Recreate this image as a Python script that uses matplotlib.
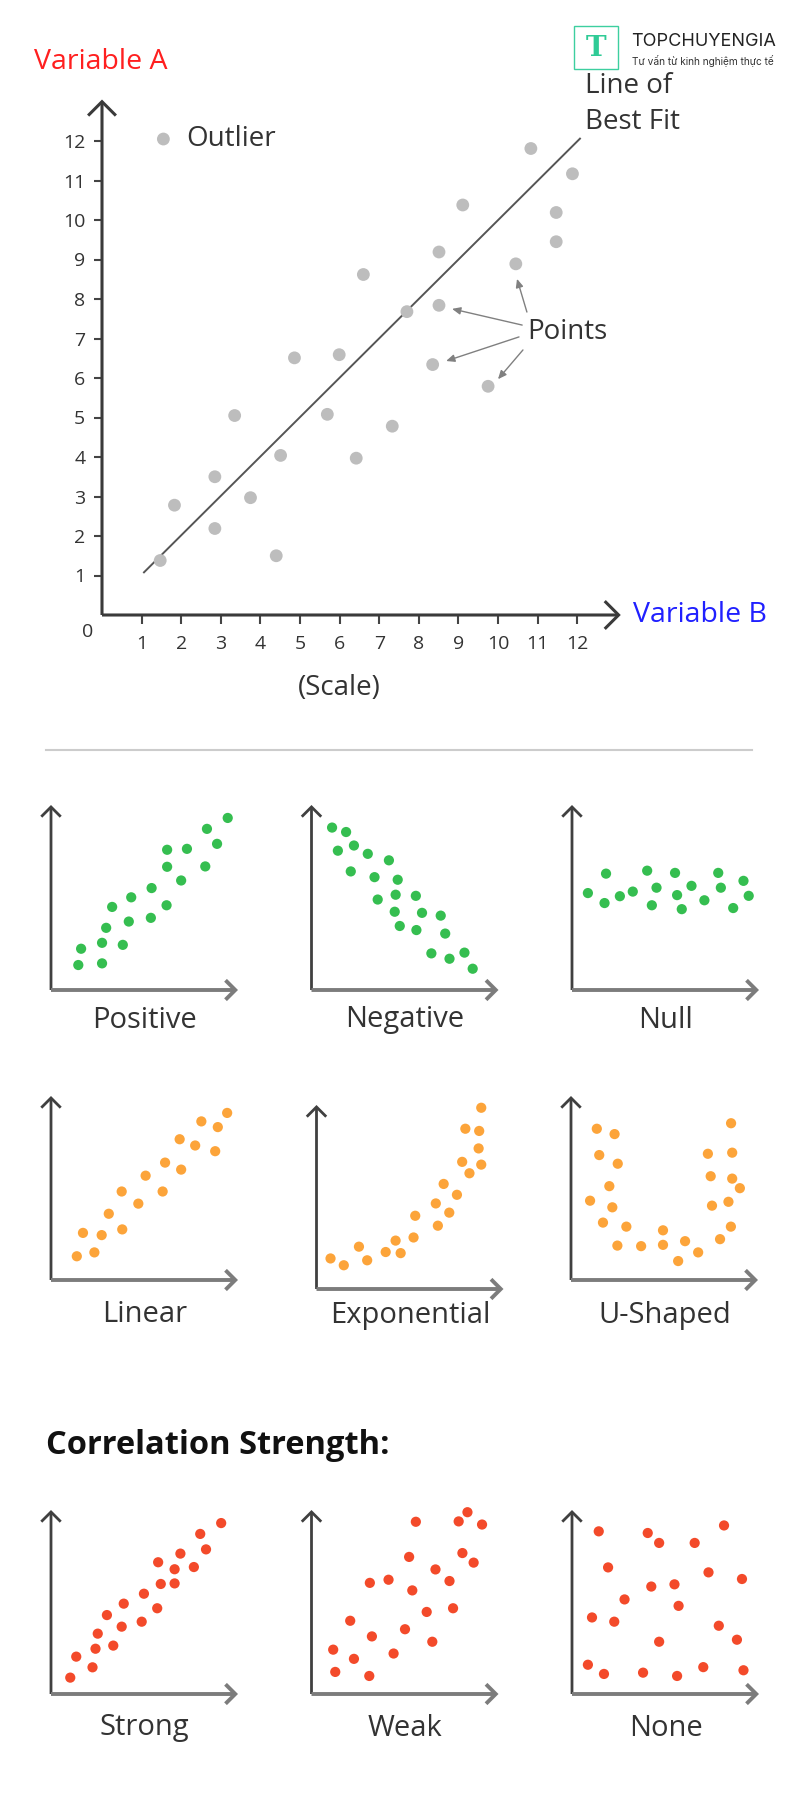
"""
Scatter plot explainer: main annotated scatter plus small pattern panels.
"""

import matplotlib
matplotlib.use('Agg')
import matplotlib.pyplot as plt
from matplotlib import font_manager
from matplotlib.patches import Rectangle

W, H = 800, 1798

# ---- main chart data ----
main_x = [1.47, 1.83, 2.85, 2.85, 3.35, 3.75, 4.40, 4.51, 4.86, 5.69, 5.99, 6.42, 6.60,
          7.33, 7.70, 8.35, 8.51, 8.51, 9.11, 9.75, 10.45, 10.83, 11.47, 11.47, 11.88]
main_y = [1.38, 2.78, 3.50, 2.19, 5.05, 2.97, 1.50, 4.04, 6.51, 5.08, 6.59, 3.97, 8.62,
          4.78, 7.68, 6.34, 9.19, 7.84, 10.38, 5.79, 8.89, 11.81, 10.19, 9.45, 11.17]
fit_x = [1.06, 12.07]
fit_y = [1.08, 12.06]
main_ticks = list(range(1, 13))

# ---- small panels data (axes run 0..10) ----
pos_x = [1.46, 1.61, 2.73, 2.73, 2.95, 3.84, 3.27, 4.16, 4.29, 5.34, 5.38, 6.18, 6.21, 6.21,
         6.96, 7.27, 8.25, 8.34, 8.88, 9.45]
pos_y = [1.35, 2.23, 1.44, 2.55, 3.36, 2.44, 4.49, 3.70, 5.01, 3.90, 5.51, 4.58, 6.66, 7.58,
         5.92, 7.63, 6.68, 8.71, 7.90, 9.30]

neg_x = [1.10, 1.85, 1.41, 2.27, 3.01, 4.14, 2.10, 3.37, 4.61, 3.54, 4.50, 5.58, 4.45, 5.91,
         6.91, 4.72, 5.61, 7.15, 6.41, 7.38, 8.18, 8.62]
neg_y = [8.78, 8.54, 7.53, 7.81, 7.36, 7.01, 6.41, 6.10, 5.96, 4.89, 5.15, 5.09, 4.23, 4.17,
         4.02, 3.46, 3.24, 3.05, 1.98, 1.69, 2.02, 1.15]

null_x = [0.85, 1.82, 1.74, 2.56, 3.25, 4.02, 4.27, 4.52, 5.51, 5.62, 5.87, 6.39, 7.08, 7.82,
          7.96, 8.62, 9.17, 9.45]
null_y = [5.24, 6.29, 4.70, 5.07, 5.32, 6.45, 4.58, 5.53, 6.33, 5.13, 4.37, 5.63, 4.85, 6.33,
          5.53, 4.43, 5.90, 5.09]

lin_x = [1.38, 2.32, 1.71, 2.71, 3.81, 3.09, 4.67, 3.78, 5.97, 5.06, 6.96, 6.10, 7.71, 6.88,
         8.78, 8.92, 8.04, 9.42]
lin_y = [1.29, 1.50, 2.56, 2.44, 2.75, 3.60, 4.15, 4.81, 4.81, 5.67, 6.00, 6.38, 7.31, 7.65,
         7.00, 8.31, 8.62, 9.08]

exp_x = [0.75, 1.46, 2.27, 2.71, 3.70, 4.23, 4.50, 5.19, 5.28, 6.49, 6.38, 7.10, 6.80, 7.51,
         7.79, 8.18, 7.96, 8.70, 8.67, 8.81, 8.81]
exp_y = [1.66, 1.29, 2.30, 1.56, 2.01, 2.63, 1.95, 2.80, 3.98, 3.44, 4.65, 4.15, 5.71, 5.12,
         6.91, 6.29, 8.71, 8.59, 7.64, 6.76, 9.85]

ush_x = [1.38, 2.33, 1.51, 2.50, 2.05, 1.02, 2.21, 1.71, 2.96, 2.48, 3.75, 4.92, 4.92, 6.10,
         5.73, 6.80, 7.97, 8.55, 8.42, 7.54, 9.03, 8.62, 7.47, 8.62, 7.32, 8.56]
ush_y = [8.22, 7.93, 6.79, 6.32, 5.10, 4.31, 3.95, 3.12, 2.90, 1.87, 1.84, 2.70, 1.91, 2.11,
         1.03, 1.50, 2.22, 2.90, 4.25, 4.04, 4.99, 5.51, 5.64, 6.92, 6.86, 8.52]

strong_x = [1.03, 1.35, 2.22, 2.38, 3.33, 2.50, 3.78, 2.99, 4.85, 3.89, 4.97, 5.68, 5.87,
            6.61, 5.73, 6.61, 6.92, 7.64, 8.29, 7.98, 9.10]
strong_y = [0.89, 2.03, 1.45, 2.46, 2.63, 3.28, 3.66, 4.29, 3.93, 4.91, 5.45, 4.66, 5.98,
            6.01, 7.16, 6.78, 7.63, 6.90, 7.86, 8.70, 9.29]

weak_x = [1.16, 1.27, 2.27, 3.09, 2.07, 3.23, 4.39, 3.12, 4.12, 5.00, 5.39, 5.22, 6.16, 6.46,
          6.63, 7.38, 7.57, 5.58, 7.87, 8.34, 9.12, 8.07, 8.67]
weak_y = [2.41, 1.20, 1.91, 0.98, 3.98, 3.13, 2.20, 6.04, 6.21, 3.52, 5.63, 7.45, 4.46, 2.84,
          6.77, 6.14, 4.66, 9.36, 9.38, 9.88, 9.21, 7.66, 7.14]

none_x = [1.43, 4.05, 4.66, 6.56, 8.13, 1.93, 7.30, 9.09, 4.24, 5.48, 2.81, 5.70, 1.07, 2.26,
          7.85, 8.82, 4.66, 0.85, 1.71, 3.80, 5.62, 7.02, 9.17]
none_y = [8.84, 8.75, 8.21, 8.21, 9.16, 6.88, 6.61, 6.25, 5.84, 5.96, 5.14, 4.79, 4.16, 3.93,
          3.71, 2.95, 2.84, 1.59, 1.09, 1.16, 0.98, 1.46, 1.29]

GREEN = '#35be50'
ORANGE = '#fca43a'
RED = '#f34a2a'
TEXT = '#333333'


def pick_font(names):
    available = {f.name for f in font_manager.fontManager.ttflist}
    for n in names:
        if n in available:
            return n
    return 'DejaVu Sans'


FONT = pick_font(['Open Sans', 'Liberation Sans', 'DejaVu Sans'])
LOGO_FONT = pick_font(['Inter', 'Lato', 'DejaVu Sans'])
plt.rcParams['font.family'] = [FONT, 'DejaVu Sans']


def fx(x):
    return x / W


def fy(y):
    return 1 - y / H


def axes_px(fig, left, top, right, bottom):
    return fig.add_axes([fx(left), fy(bottom), (right - left) / W, (bottom - top) / H])


def draw_arrow(ax, x0, y0, x1, y1, color, lw, size):
    ax.annotate('', xy=(x1, y1), xytext=(x0, y0), annotation_clip=False,
                arrowprops=dict(arrowstyle=f'->,head_length={size},head_width={size}',
                                color=color, lw=lw, shrinkA=0, shrinkB=0,
                                capstyle='butt', joinstyle='miter'))


fig = plt.figure(figsize=(W / 100, H / 100), dpi=100)
fig.patch.set_facecolor('white')

# ---------------- main chart ----------------
ax = axes_px(fig, 102, 101.5, 102 + 13.2 * 39.6, 615)
ax.set_xlim(0, 13.2)
ax.set_ylim(0, 13.0)
for s in ax.spines.values():
    s.set_visible(False)
ax.set_xticks(main_ticks)
ax.set_yticks(main_ticks)
ax.tick_params(axis='both', colors='#444444', labelcolor=TEXT, width=1.5, labelsize=14)
ax.tick_params(axis='x', length=6.5, pad=8)
ax.tick_params(axis='y', length=6, pad=6)

ax.plot(fit_x, fit_y, color='#555555', lw=1.4, zorder=2)
ax.scatter(main_x, main_y, s=85, color='#bdbdbd', edgecolors='none', zorder=3)

draw_arrow(ax, 0, 0, 0, 13.05, '#3a3a3a', 2.2, 1.0)
draw_arrow(ax, 0, 0, 13.1, 0, '#3a3a3a', 2.2, 1.0)

# outlier key
ax.scatter([1.55], [12.05], s=85, color='#bdbdbd', edgecolors='none', clip_on=False)
ax.text(2.12, 12.05, 'Outlier', fontsize=20, color=TEXT, va='center', ha='left')

# "Points" callout
ax.text(10.75, 7.16, 'Points', fontsize=20, color=TEXT, va='center', ha='left')
callouts = [((10.73, 7.67), (10.48, 8.51)),
            ((10.61, 7.34), (8.84, 7.75)),
            ((10.53, 7.04), (8.69, 6.43)),
            ((10.63, 6.71), (10.00, 5.97))]
for tail, head in callouts:
    ax.annotate('', xy=head, xytext=tail, annotation_clip=False,
                arrowprops=dict(arrowstyle='-|>,head_length=0.5,head_width=0.22',
                                color='#808080', lw=1.0, shrinkA=0, shrinkB=0))

fig.text(fx(34), fy(62), 'Variable A', fontsize=20.5, color='#ff1f1f', va='center', ha='left')
fig.text(fx(633), fy(615), 'Variable B', fontsize=20.5, color='#2020ff', va='center', ha='left')
fig.text(fx(585), fy(86), 'Line of', fontsize=20, color=TEXT, va='center', ha='left')
fig.text(fx(585), fy(122), 'Best Fit', fontsize=20, color=TEXT, va='center', ha='left')
fig.text(fx(339), fy(688), '(Scale)', fontsize=20, color=TEXT, va='center', ha='center')
fig.text(fx(88), fy(632), '0', fontsize=14, color=TEXT, va='center', ha='center')

# logo
fig.patches.append(Rectangle((fx(574), fy(69)), 44 / W, 43 / H, transform=fig.transFigure,
                             fill=False, edgecolor='#3dcf9f', lw=1.0))
fig.text(fx(596), fy(48), 'T', fontsize=20, color='#2fcb96', fontweight='bold',
         family='DejaVu Serif', va='center', ha='center')
fig.text(fx(631), fy(42), 'TOPCHUYENGIA', fontsize=13, color='#222222', family=LOGO_FONT,
         va='center', ha='left')
fig.text(fx(632), fy(61), 'Tư vấn từ kinh nghiệm thực tế', fontsize=7.3, color='#333333',
         family=LOGO_FONT, va='center', ha='left')

# separator
fig.add_artist(plt.Line2D([fx(46), fx(752)], [fy(750), fy(750)], transform=fig.transFigure,
                          color='#cccccc', lw=1.5))

# ---------------- small panels ----------------
panels = [
    (51, 805, 990, pos_x, pos_y, GREEN, 'Positive', 1020),
    (311.5, 805, 990, neg_x, neg_y, GREEN, 'Negative', 1020),
    (572, 805, 990, null_x, null_y, GREEN, 'Null', 1020),
    (51, 1096, 1280, lin_x, lin_y, ORANGE, 'Linear', 1315),
    (316.5, 1105, 1289, exp_x, exp_y, ORANGE, 'Exponential', 1315),
    (571, 1096, 1280, ush_x, ush_y, ORANGE, 'U-Shaped', 1315),
    (51, 1510, 1694, strong_x, strong_y, RED, 'Strong', 1728),
    (311.5, 1510, 1694, weak_x, weak_y, RED, 'Weak', 1728),
    (572, 1510, 1694, none_x, none_y, RED, 'None', 1728),
]

for left, top, bottom, xs, ys, color, label, label_y in panels:
    pax = axes_px(fig, left, top, left + 187, bottom)
    pax.set_xlim(0, 10)
    pax.set_ylim(0, 10)
    pax.axis('off')
    pax.scatter(xs, ys, s=54, color=color, edgecolors='none', zorder=3, clip_on=False)
    draw_arrow(pax, 0, 0, 0, 10, '#404040', 2.0, 0.7)
    draw_arrow(pax, 0, 0, 10, 0, '#7c7c7c', 2.8, 0.7)
    fig.text(fx(left + 93.5), fy(label_y), label, fontsize=21, color=TEXT,
             va='center', ha='center')

fig.text(fx(46), fy(1446), 'Correlation Strength:', fontsize=23.5, fontweight='bold',
         color='#111111', va='center', ha='left')

plt.savefig('out.png', dpi=100, facecolor='white')
